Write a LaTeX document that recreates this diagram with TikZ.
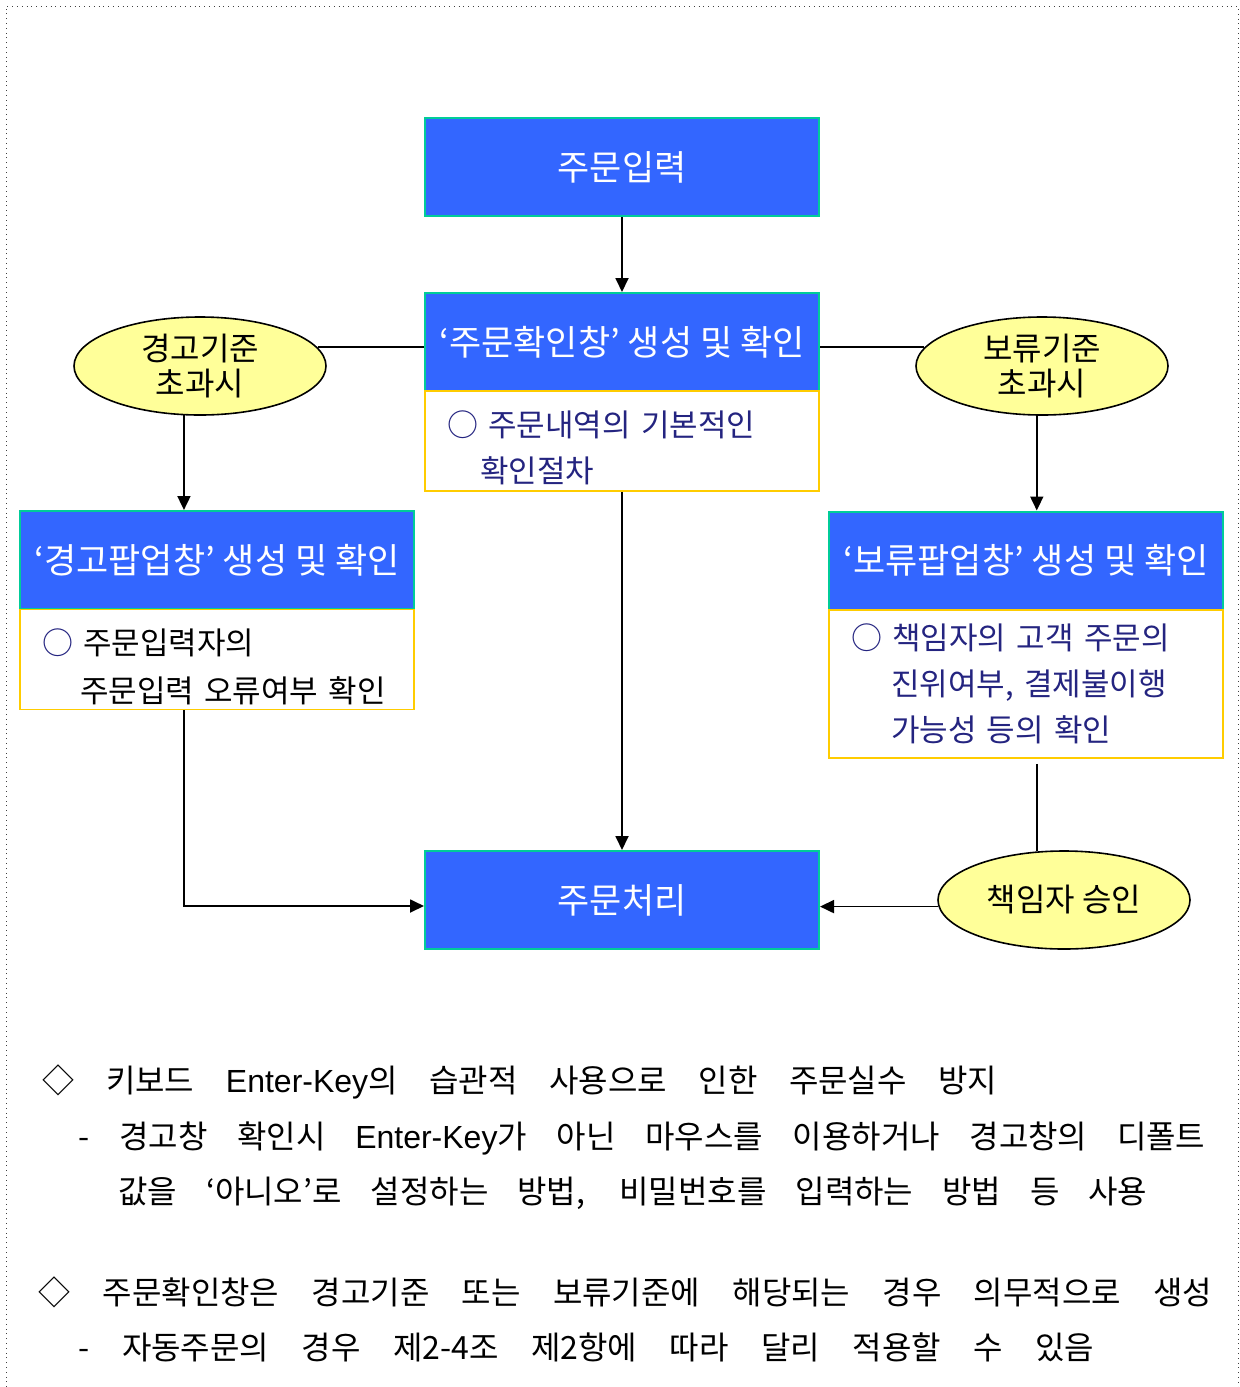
\documentclass[tikz,border=0pt]{standalone}
\usepackage{fontspec}
\setmainfont{Noto Sans CJK KR}
\newfontfamily\latinfont{Liberation Sans}
\usetikzlibrary{shapes.geometric,arrows.meta}
\definecolor{boxblue}{RGB}{51,102,255}
\definecolor{boxedge}{RGB}{0,204,153}
\definecolor{bodyedge}{RGB}{255,204,0}
\definecolor{ovalfill}{RGB}{255,255,153}
\definecolor{navy}{RGB}{36,36,128}
\newcommand{\lowerline}{\rule{0pt}{20pt}}
\newcommand{\enterkey}{{\latinfont Enter-Key}}
\tikzset{
  headbox/.style={draw=boxedge, fill=boxblue, text=white, line width=1pt,
    minimum width=197pt, minimum height=49pt, inner sep=0pt,
    font=\fontsize{17.5}{20}\selectfont},
  bodybox/.style={draw=bodyedge, fill=white, line width=0.8pt, align=left,
    text width=175pt, inner xsep=11pt, inner ysep=0pt, minimum height=50pt,
    font=\fontsize{15.5}{23}\selectfont},
  oval/.style={ellipse, draw, fill=ovalfill, line width=0.8pt, inner sep=0pt,
    minimum width=126pt, minimum height=49pt, align=center,
    font=\fontsize{16}{17.5}\selectfont},
  conn/.style={line width=0.9pt},
  arr/.style={conn, -{Triangle[length=7pt,width=6.5pt]}},
  note/.style={anchor=west, inner sep=0pt, font=\fontsize{16}{19}\selectfont}
}
\begin{document}
\begin{tikzpicture}[x=0.5pt,y=-0.5pt]
  \useasboundingbox (0,0) rectangle (1240,1387);
  \draw[dotted, black!75] (6,1387) |- (1238,6) -- (1238,1387);

  % main column
  \node[headbox] (order) at (622,167) {주문입력};
  \node[headbox] (confirmhead) at (622,342) {‘주문확인창’ 생성 및 확인};
  \node[bodybox, text=navy] (confirmbody) at (622,441)
    {\lowerline○ 주문내역의 기본적인\\\hspace*{16.5pt}확인절차};
  \node[headbox] (process) at (622,900) {주문처리};

  % warning branch
  \node[oval] (warnL) at (200,366) {경고기준\\초과시};
  \node[headbox] (warnhead) at (217,560) {‘경고팝업창’ 생성 및 확인};
  \node[bodybox, font=\fontsize{15.5}{24}\selectfont] (warnbody) at (217,659.5)
    {\lowerline\textcolor{navy}{○} 주문입력자의\\\hspace*{19pt}주문입력 오류여부 확인};

  % hold branch
  \node[oval] (holdR) at (1042,366) {보류기준\\초과시};
  \node[headbox] (holdhead) at (1026,560.5) {‘보류팝업창’ 생성 및 확인};
  \node[bodybox, text=navy, minimum height=74pt] (holdbody) at (1026,684)
    {○ 책임자의 고객 주문의\\\hspace*{20pt}진위여부, 결제불이행\\\hspace*{20pt}가능성 등의 확인};
  \node[oval] (approve) at (1064,900) {책임자 승인};

  % connectors
  \draw[arr] (order) -- (confirmhead);
  \draw[arr] (confirmbody) -- (process);
  \draw[conn] (warnL.9) -- (warnL.9 -| confirmhead.west);
  \draw[conn] (holdR.171) -- (holdR.171 -| confirmhead.east);
  \draw[arr] (warnL.252) -- (warnL.252 |- warnhead.north);
  \draw[arr] (holdR.264) -- (holdR.264 |- holdhead.north);
  \draw[arr] (warnbody.south -| warnL.252) |- ([yshift=-3pt]process.west);
  \draw[conn] ([yshift=-2.5pt]holdbody.south -| approve.119) -- (approve.119);
  \draw[arr] (approve.183) -- (approve.183 -| process.east);

  % notes
  \node[note] (note1) at (42,1082) {\makebox[477.5pt][s]{◇ 키보드 \enterkey 의 습관적 사용으로 인한 주문실수 방지}};
  \node[note] (note2) at (78,1138) {\makebox[563.5pt][s]{- 경고창 확인시 \enterkey 가 아닌 마우스를 이용하거나 경고창의 디폴트}};
  \node[note] (note3) at (118,1193) {\makebox[514.5pt][s]{값을 ‘아니오’로 설정하는 방법, 비밀번호를 입력하는 방법 등 사용}};
  \node[note] (note4) at (38,1292) {\makebox[587pt][s]{◇ 주문확인창은 경고기준 또는 보류기준에 해당되는 경우 의무적으로 생성}};
  \node[note] (note5) at (78,1347) {\makebox[508pt][s]{- 자동주문의 경우 제2-4조 제2항에 따라 달리 적용할 수 있음}};
\end{tikzpicture}
\end{document}
